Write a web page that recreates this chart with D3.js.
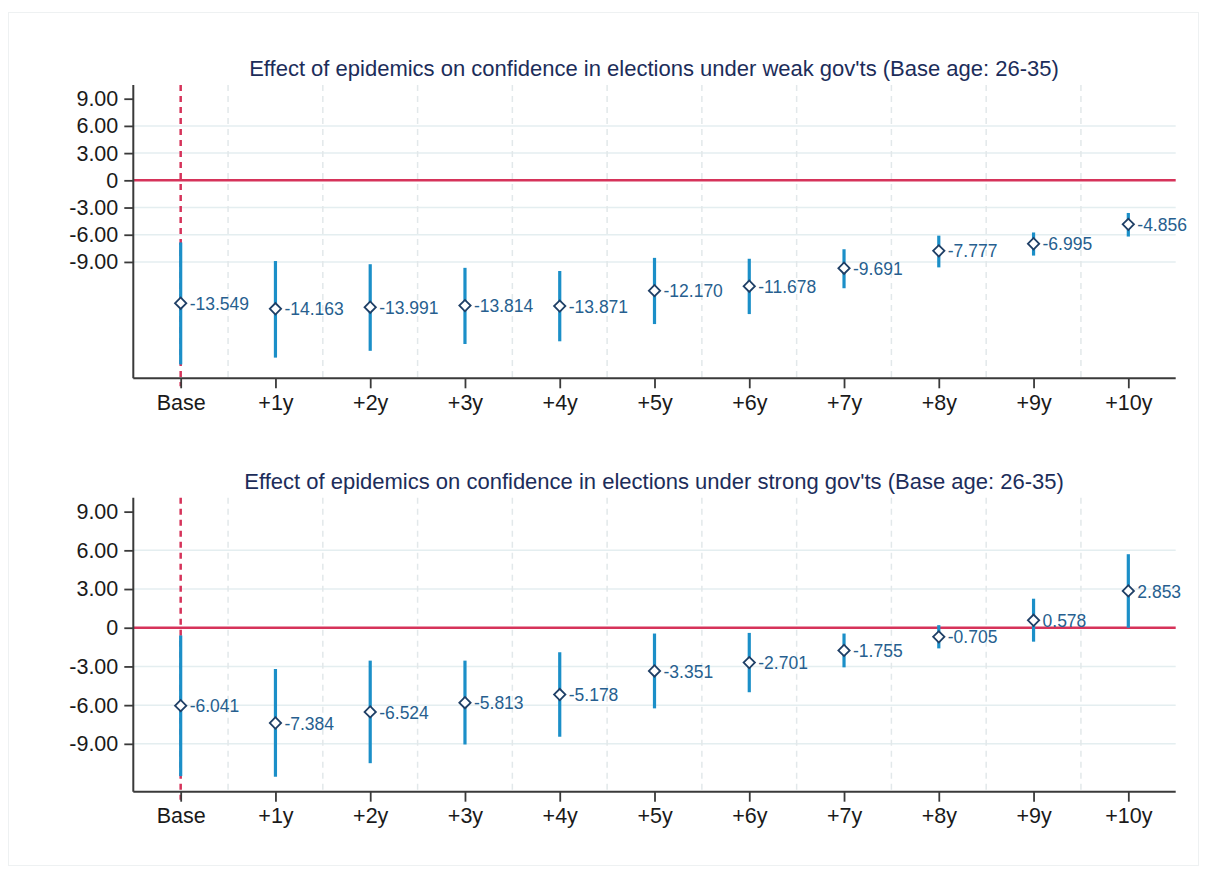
<!DOCTYPE html>
<html>
<head>
<meta charset="utf-8">
<script src="https://cdn.jsdelivr.net/npm/d3@7"></script>
<style>
  html, body { margin: 0; padding: 0; background: #fff; }
  svg { display: block; font-family: "Liberation Sans", Arial, Helvetica, sans-serif; }
</style>
</head>
<body>
<svg id="chart" width="1209" height="869"></svg>
<script>
const categories = ["Base", "+1y", "+2y", "+3y", "+4y", "+5y", "+6y", "+7y", "+8y", "+9y", "+10y"];
const yTicks = [9, 6, 3, 0, -3, -6, -9];

const weakTitle = "Effect of epidemics on confidence in elections under weak gov'ts (Base age: 26-35)";
const weakEst = [-13.549, -14.163, -13.991, -13.814, -13.871, -12.170, -11.678, -9.691, -7.777, -6.995, -4.856];
const weakLo  = [-20.30, -19.55, -18.80, -18.05, -17.75, -15.85, -14.75, -11.90, -9.60, -8.30, -6.20];
const weakHi  = [-6.85, -8.90, -9.25, -9.65, -10.00, -8.55, -8.65, -7.60, -6.10, -5.75, -3.60];

const strongTitle = "Effect of epidemics on confidence in elections under strong gov'ts (Base age: 26-35)";
const strongEst = [-6.041, -7.384, -6.524, -5.813, -5.178, -3.351, -2.701, -1.755, -0.705, 0.578, 2.853];
const strongLo  = [-11.50, -11.55, -10.50, -9.05, -8.45, -6.25, -5.00, -3.07, -1.60, -1.08, 0.00];
const strongHi  = [-0.60, -3.20, -2.55, -2.55, -1.90, -0.45, -0.40, -0.45, 0.20, 2.25, 5.70];

const svg = d3.select("#chart");
const hyph = s => s.replace(/\u2212/g, "-");

// outer faint frame
svg.append("rect").attr("x", 8.5).attr("y", 12.5).attr("width", 1190).attr("height", 853)
  .attr("fill", "none").attr("stroke", "#eef1f2").attr("stroke-width", 1);

const COL_BAR = "#1b8fc8", COL_MARK = "#1f3f66", COL_LAB = "#275f8f", COL_RED = "#d6335a";

function panel(cfg) {
  const x = d3.scaleLinear().domain([-0.5, categories.length - 0.5]).range([cfg.left, cfg.right]);
  const y = d3.scaleLinear().domain(cfg.yDomain).range([cfg.bottom, cfg.top]);
  const g = svg.append("g");

  // horizontal gridlines
  g.selectAll("line.hg").data(yTicks.filter(t => t !== 0 && t !== 9)).join("line")
    .attr("x1", cfg.left).attr("x2", cfg.right)
    .attr("y1", d => y(d)).attr("y2", d => y(d))
    .attr("stroke", "#e4eef0").attr("stroke-width", 1.5);

  // vertical dashed gridlines at half positions
  const half = d3.range(0.5, categories.length - 1, 1);
  g.selectAll("line.vg").data(half).join("line")
    .attr("x1", d => x(d)).attr("x2", d => x(d))
    .attr("y1", cfg.top).attr("y2", cfg.bottom)
    .attr("stroke", "#e2e8ea").attr("stroke-width", 1.5).attr("stroke-dasharray", "6,5");

  // zero line
  g.append("line").attr("x1", cfg.left).attr("x2", cfg.right)
    .attr("y1", y(0)).attr("y2", y(0)).attr("stroke", COL_RED).attr("stroke-width", 2.5);

  // vertical red dashed at Base
  g.append("line").attr("x1", x(0)).attr("x2", x(0))
    .attr("y1", cfg.top).attr("y2", cfg.bottom + 8)
    .attr("stroke", COL_RED).attr("stroke-width", 2.5).attr("stroke-dasharray", "6,5");

  // axes
  const yAxis = d3.axisLeft(y).tickValues(yTicks).tickSize(9).tickPadding(6)
    .tickFormat(d => d === 0 ? "0" : hyph(d3.format(".2f")(d)));
  const ya = g.append("g").attr("transform", `translate(${cfg.left},0)`).call(yAxis);
  ya.select(".domain").attr("d", `M0,${cfg.top}V${cfg.bottom}`);

  const xAxis = d3.axisBottom(x).tickValues(d3.range(categories.length)).tickSize(10).tickPadding(6)
    .tickFormat(i => categories[i]);
  const xa = g.append("g").attr("transform", `translate(0,${cfg.bottom})`).call(xAxis);
  xa.select(".domain").attr("d", `M${cfg.left},0H${cfg.right}`);

  [ya, xa].forEach(a => {
    a.select(".domain").attr("stroke", "#3a3a3a").attr("stroke-width", 2);
    a.selectAll(".tick line").attr("stroke", "#3a3a3a").attr("stroke-width", 1.8);
    a.selectAll(".tick text").attr("font-size", 21.5).attr("fill", "#1a1a1a")
      .attr("font-family", "'Liberation Sans', Arial, sans-serif");
  });

  // error bars
  const idx = d3.range(categories.length);
  g.selectAll("line.eb").data(idx).join("line")
    .attr("x1", i => x(i)).attr("x2", i => x(i))
    .attr("y1", i => y(cfg.lo[i])).attr("y2", i => y(cfg.hi[i]))
    .attr("stroke", COL_BAR).attr("stroke-width", 3.2);

  // diamond markers
  const sym = d3.symbol().type(d3.symbolSquare).size(64);
  g.selectAll("path.mk").data(idx).join("path")
    .attr("d", sym)
    .attr("transform", i => `translate(${x(i)},${y(cfg.est[i])}) rotate(45)`)
    .attr("fill", "#fff").attr("stroke", COL_MARK).attr("stroke-width", 1.8);

  // value labels
  g.selectAll("text.lb").data(idx).join("text")
    .attr("x", i => x(i) + 9).attr("y", i => y(cfg.est[i]) + 2)
    .attr("dominant-baseline", "middle")
    .attr("font-size", 17.5).attr("fill", COL_LAB)
    .text(i => hyph(d3.format(".3f")(cfg.est[i])));

  // title
  g.append("text").attr("x", cfg.titleX).attr("y", cfg.titleY)
    .attr("text-anchor", "middle").attr("font-size", 22).attr("fill", "#1c2d5a")
    .text(cfg.title);
}

panel({
  left: 133.3, right: 1175.7, top: 85, bottom: 378.3,
  yDomain: [-21.83, 10.51],
  est: weakEst, lo: weakLo, hi: weakHi,
  title: weakTitle, titleX: 654, titleY: 76
});

panel({
  left: 133.3, right: 1175.7, top: 497.7, bottom: 791.7,
  yDomain: [-12.71, 10.08],
  est: strongEst, lo: strongLo, hi: strongHi,
  title: strongTitle, titleX: 654, titleY: 489
});
</script>
</body>
</html>
